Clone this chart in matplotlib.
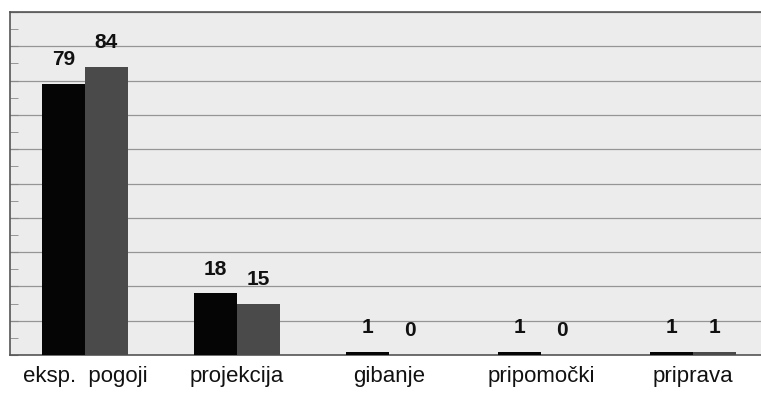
import matplotlib.pyplot as plt
import matplotlib.ticker as ticker
import numpy as np

categories = ['eksp.  pogoji', 'projekcija', 'gibanje', 'pripomočki', 'priprava']
series_a = [79, 18, 1, 1, 1]
series_b = [84, 15, 0, 0, 1]

plt.rcParams['font.family'] = ['Liberation Sans', 'DejaVu Sans']

fig = plt.figure(figsize=(7.61, 3.98), dpi=100)
ax = fig.add_axes([10 / 761, 43 / 398, 751 / 761, 343 / 398])
ax.set_facecolor('#ececec')

x = np.arange(len(categories))
w = 0.283
bars_a = ax.bar(x - w / 2, series_a, width=w, color='#050505', zorder=3)
bars_b = ax.bar(x + w / 2, series_b, width=w, color='#4a4a4a', zorder=3)

for bars in (bars_a, bars_b):
    for b in bars:
        ax.annotate(f'{int(b.get_height())}',
                    (b.get_x() + b.get_width() / 2, b.get_height()),
                    xytext=(0, 10.5), textcoords='offset points',
                    ha='center', va='bottom', fontsize=15, fontweight='bold',
                    color='#111111')

ax.set_xlim(-0.493, 4.448)
ax.set_ylim(0, 100)
ax.set_yticks(range(0, 101, 10))
ax.yaxis.set_minor_locator(ticker.MultipleLocator(5))
ax.set_yticklabels([])
ax.tick_params(axis='y', which='both', direction='in', length=6, color='#888888')
ax.grid(axis='y', color='#959595', linewidth=0.9, zorder=0)

ax.set_xticks(x)
ax.set_xticklabels(categories, fontsize=16, color='#111111')
ax.tick_params(axis='x', length=0, pad=8)

for side in ('left', 'bottom', 'top'):
    ax.spines[side].set_color('#555555')
    ax.spines[side].set_linewidth(1.2)
ax.spines['right'].set_visible(False)

plt.savefig('out.png', dpi=100)
plt.close()
